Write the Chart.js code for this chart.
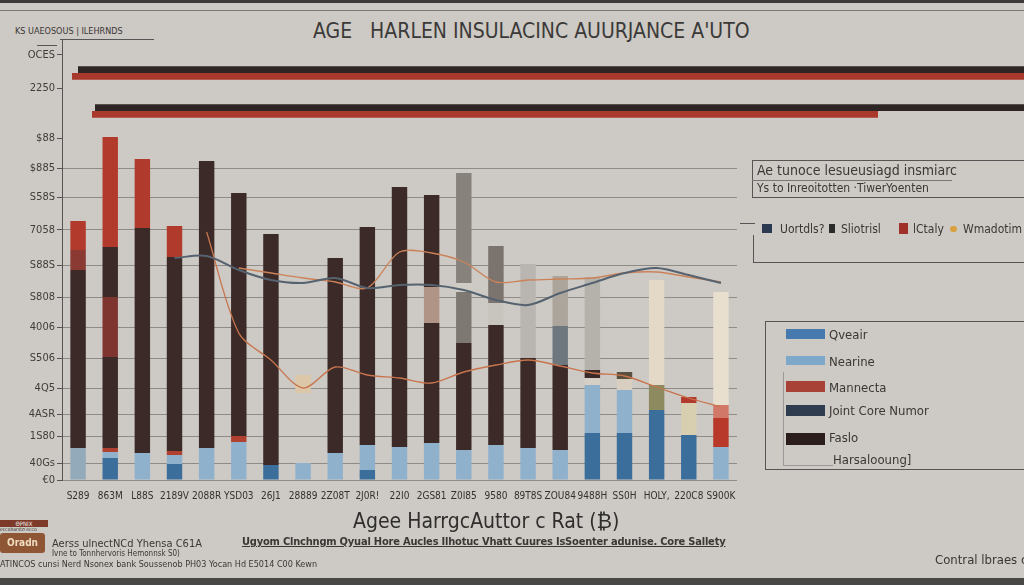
<!DOCTYPE html>
<html>
<head>
<meta charset="utf-8">
<script src="https://cdn.jsdelivr.net/npm/chart.js@4.4.1/dist/chart.umd.min.js"></script>
<style>
html, body { margin: 0; padding: 0; }
body { width: 1024px; height: 585px; position: relative; overflow: hidden; background: #cdc9c4;
  font-family: "DejaVu Sans Condensed", "Liberation Sans", sans-serif; color: #3a3735; }
.t { position: absolute; white-space: nowrap; line-height: 1; }
.ln { position: absolute; background: #555; }
canvas { position: absolute; }
.sw { position: absolute; }
</style>
</head>
<body>
<div class="ln" style="left:0;top:0;width:1024px;height:3px;background:#3c3b3a"></div>
<div class="ln" style="left:0;top:10px;width:1024px;height:1px;background:#7a7774"></div>
<div class="ln" style="left:0;top:578px;width:1024px;height:7px;background:#4a4847"></div>

<div class="t" style="left:15px;top:27px;font-size:9px;">KS UAEOSOUS | ILEHRNDS</div>
<div class="ln" style="left:60px;top:39px;width:94px;height:1px;"></div>
<div class="ln" style="left:37px;top:45px;width:20px;height:1px;"></div>

<div class="t" style="left:313px;top:21px;font-size:21px;color:#3b3a39;">AGE&nbsp;&nbsp; HARLEN INSULACINC AUURJANCE A'UTO</div>

<canvas id="stripes" width="1024" height="76" style="left:0;top:54px;width:1024px;height:76px"></canvas>
<canvas id="main" width="1024" height="585" style="left:0;top:0;width:1024px;height:585px"></canvas>

<!-- legend box 1 -->
<div class="ln" style="left:752px;top:160px;width:272px;height:1px;"></div>
<div class="ln" style="left:752px;top:160px;width:1px;height:38px;"></div>
<div class="ln" style="left:752px;top:197px;width:272px;height:1px;"></div>
<div class="ln" style="left:752px;top:180px;width:200px;height:1px;background:#777"></div>
<div class="t" style="left:757px;top:163px;font-size:14px;">Ae tunoce lesueusiagd insmiarc</div>
<div class="t" style="left:757px;top:182px;font-size:12px;">Ys to Inreoitotten ·TiwerYoenten</div>

<div class="ln" style="left:740px;top:223px;width:15px;height:1px;"></div>
<div class="ln" style="left:753px;top:235px;width:1px;height:27px;"></div>
<div class="ln" style="left:753px;top:262px;width:271px;height:1px;"></div>
<div class="sw" style="left:762px;top:224px;width:10px;height:9px;background:#2b3a50"></div>
<div class="t" style="left:780px;top:223px;font-size:12px;">Uortdls?</div>
<div class="sw" style="left:829px;top:224px;width:6px;height:9px;background:#2b2b2b"></div>
<div class="t" style="left:841px;top:223px;font-size:12px;">Sliotrisl</div>
<div class="sw" style="left:899px;top:223px;width:9px;height:11px;background:#a0302a"></div>
<div class="t" style="left:913px;top:223px;font-size:12px;">lCtaly</div>
<div class="sw" style="left:950px;top:226px;width:7px;height:6px;background:#d9a040;border-radius:3px"></div>
<div class="t" style="left:963px;top:223px;font-size:12px;">Wmadotim</div>

<!-- legend box 2 -->
<div class="ln" style="left:765px;top:321px;width:259px;height:1px;"></div>
<div class="ln" style="left:765px;top:321px;width:1px;height:149px;"></div>
<div class="ln" style="left:765px;top:469px;width:259px;height:1px;"></div>
<div class="ln" style="left:783px;top:372px;width:1px;height:93px;background:#999"></div>
<div class="ln" style="left:783px;top:465px;width:50px;height:1px;background:#999"></div>
<div class="sw" style="left:786px;top:329px;width:39px;height:10px;background:#4679ad"></div>
<div class="t" style="left:829px;top:328px;font-size:13px;">Qveair</div>
<div class="sw" style="left:786px;top:356px;width:39px;height:9px;background:#7ea8c9"></div>
<div class="t" style="left:829px;top:355px;font-size:13px;">Nearine</div>
<div class="sw" style="left:786px;top:381px;width:39px;height:11px;background:#a94236"></div>
<div class="t" style="left:829px;top:381px;font-size:13px;">Mannecta</div>
<div class="sw" style="left:786px;top:405px;width:39px;height:11px;background:#2f3c50"></div>
<div class="t" style="left:829px;top:404px;font-size:13px;">Joint Core Numor</div>
<div class="sw" style="left:786px;top:433px;width:39px;height:12px;background:#2a1d1b"></div>
<div class="t" style="left:829px;top:431px;font-size:13px;">Faslo</div>
<div class="t" style="left:833px;top:453px;font-size:13px;">Harsalooung]</div>

<!-- bottom texts -->
<div class="t" style="left:353px;top:511px;font-size:21px;color:#2f2e2d;">Agee HarrgcAuttor c Rat (₿)</div>
<div class="t" style="left:242px;top:536px;font-size:11px;font-weight:bold;letter-spacing:-0.2px;text-decoration:underline;">Ugyom Clnchngm Qyual Hore Aucles Ilhotuc Vhatt Cuures IsSoenter adunise. Core Sallety</div>

<div class="sw" style="left:0;top:520px;width:48px;height:7px;background:#7e3a28;color:#eee;font-size:6px;line-height:7px;text-align:center">ΘΡΝΙΧ</div>
<div class="t" style="left:0;top:527px;font-size:5px;">eccoharstσ ecco</div>
<div class="sw" style="left:0;top:533px;width:45px;height:20px;background:#8e5634;border-radius:3px;color:#f0dcc0;font-size:10px;line-height:20px;text-align:center;font-weight:bold">Oradn</div>
<div class="t" style="left:52px;top:538px;font-size:11px;">Aerss ulnectNCd Yhensa C61A</div>
<div class="t" style="left:52px;top:550px;font-size:8px;">Ivne to Tonnhervoris Hemonnsk S0)</div>
<div class="t" style="left:0;top:560px;font-size:9px;">ATINCOS cunsi Nerd Nsonex bank Soussenob PH03 Yocan Hd E5014 C00 Kewn</div>
<div class="t" style="left:935px;top:553px;font-size:13px;">Contral lbraes coc A</div>

<script>
// categories / tick labels
const categories = ['S289', '863M', 'L88S', '2189V', '2088R', 'YSD03', '26J1', '28889', '2Z08T', '2J0R!', '22I0',
  '2GS81', 'Z0I85', '9580', '89T8S', 'ZOU84', '9488H', 'SS0H', 'HOLY,', '220C8', 'S900K'];
const yTickValues = [425, 392, 342, 312, 283, 250, 215, 183, 153, 122, 92, 66, 44, 17, 0];
const yTickLabels = ['OCES', '2250', '$88', '$885', 'S58S', '7058', 'S88S', 'S808', '4006', 'S506', '4Q5', '4ASR', '1S80', '40Gs', '€0'];

// stacked bar layers, bottom to top
const layerBlue  = [0, 22, 0, 16, 0, 0, 15, 0, 0, 10, 0, 0, 0, 0, 0, 0, 47, 47, 70, 45, 0];
const layerLight = [32, 6, 27, 9, 32, 38, 0, 17, 27, 25, 33, 37, 30, 35, 32, 30, 48, 43, 0, 0, 33];
const layerThin  = [0, 4, 0, 4, 0, 6, 0, 0, 0, 0, 0, 0, 0, 0, 0, 0, 7, 11, 25, 32, 29];
const layerDark  = [178, 91, 225, 194, 287, 243, 231, 70, 195, 218, 260, 120, 107, 120, 90, 85, 8, 7, 0, 0, 0];
const layerMid   = [20, 60, 0, 0, 0, 0, 0, 18, 0, 0, 0, 36, 51, 22, 0, 39, 0, 0, 0, 0, 13];
const layerUpper = [0, 50, 0, 0, 0, 0, 0, 0, 0, 0, 0, 92, 9, 57, 0, 0, 0, 0, 0, 0, 0];
const layerTop   = [29, 110, 69, 31, 0, 0, 0, 0, 0, 0, 0, 0, 110, 0, 94, 50, 93, 0, 105, 6, 113];

// lines
const slateLine  = [null, null, null, 222, 224, 210, 200, 197, 202, 192, 195, 195, 190, 180, 175, 187, 197, 207, 212, 205, 197];
const orangeUp   = [null, null, null, null, null, 212, 207, 202, 198, 192, 228, 227, 218, 198, 200, 201, 202, 207, 208, 203, 198];
const orangeLow  = [null, null, null, null, 248, 147, 120, 92, 113, 105, 102, 97, 108, 115, 120, 114, 107, 104, 93, 82, 73];

// top horizontal stripes (floating ranges)
const stripeRows = ['a', 'b'];
const stripeDark = [[78, 1024], [95, 1024]];
const stripeRed  = [[72, 1024], [92, 878]];

const DK = '#3b2a28', RD = '#b23a2c', LB = '#8fb1cc', BL = '#3c6e9c';
const thinColors = [LB, '#b04030', LB, '#b04030', LB, '#b04030', LB, LB, LB, LB, LB, LB, LB, LB, LB, LB,
  '#d6cfc6', '#d9cfc0', '#8c8a5e', '#d8ceb0', '#b8382a'];
const darkColors = categories.map((c, i) => i === 7 ? 'rgba(0,0,0,0)' : (i === 17 ? '#5a5040' : DK));
const midColors = ['#8a3a32', '#7e3530', DK, DK, DK, DK, DK, '#dcc8a8', DK, DK, DK, '#b09485', '#7e7873',
  '#c8c4be', DK, '#6f777e', DK, DK, DK, DK, '#d27868'];
const upperColors = [DK, DK, DK, DK, DK, DK, DK, DK, DK, DK, DK, DK, '#cfcbc5', '#7a736e', DK, DK, DK, DK, DK, DK, DK];
const topColors = [RD, RD, '#b03a2c', '#b03a2c', DK, DK, DK, DK, DK, DK, DK, DK, '#88827d', DK, '#b9b5b0',
  '#aca59b', '#b5b1ab', DK, '#e4d9c6', RD, '#e8dfcf'];
const lightColors = categories.map((c, i) => i === 0 ? '#93aabb' : LB);

const FONT = '"DejaVu Sans Condensed", "Liberation Sans", sans-serif';

function barSet(label, data, color) {
  return { type: 'bar', label, data, backgroundColor: color, borderWidth: 0, stack: 's', order: 2,
    barPercentage: 0.48, categoryPercentage: 1 };
}
function lineSet(label, data, color, width) {
  return { type: 'line', label, data, borderColor: color, borderWidth: width, pointRadius: 0,
    tension: 0.3, yAxisID: 'y2', order: 1, spanGaps: false };
}

new Chart(document.getElementById('main'), {
  data: {
    labels: categories,
    datasets: [
      barSet('Qveair', layerBlue, BL),
      barSet('Nearine', layerLight, lightColors),
      barSet('Mannecta', layerThin, thinColors),
      barSet('Faslo', layerDark, darkColors),
      barSet('Joint Core Numor', layerMid, midColors),
      barSet('Faslo 2', layerUpper, upperColors),
      barSet('Top', layerTop, topColors),
      lineSet('Harsalooung', slateLine, '#55626f', 2),
      lineSet('Orange', orangeUp, '#cc8258', 1.3),
      lineSet('Orange low', orangeLow, '#c8744c', 1.3)
    ]
  },
  options: {
    responsive: false,
    animation: false,
    layout: { padding: { left: 0, right: 287, top: 40, bottom: 83 } },
    plugins: { legend: { display: false }, tooltip: { enabled: false } },
    scales: {
      x: {
        stacked: true,
        grid: { display: false },
        border: { display: false },
        ticks: { autoSkip: false, maxRotation: 0, padding: 2, color: '#33302e', font: { family: FONT, size: 10 } },
        afterFit: s => { s.height = 22; }
      },
      y: {
        stacked: true, min: 0, max: 440,
        afterBuildTicks: s => { s.ticks = yTickValues.map(v => ({ value: v })); },
        afterFit: s => { s.width = 62; },
        ticks: {
          padding: 2, color: '#3f3c3a', font: { family: FONT, size: 11 },
          callback: (v) => yTickLabels[yTickValues.indexOf(v)]
        },
        grid: {
          color: ctx => (ctx.tick && ctx.tick.value > 330) ? 'rgba(0,0,0,0)' : '#8f8b87',
          tickColor: '#555', tickLength: 5
        },
        border: { color: '#555', width: 1 }
      },
      y2: { display: false, min: 0, max: 440 }
    }
  }
});

new Chart(document.getElementById('stripes'), {
  type: 'bar',
  data: {
    labels: stripeRows,
    datasets: [
      { data: stripeDark, backgroundColor: '#2e2624', categoryPercentage: 0.36, barPercentage: 1 },
      { data: stripeRed, backgroundColor: '#a8392c', categoryPercentage: 0.36, barPercentage: 1 }
    ]
  },
  options: {
    indexAxis: 'y',
    responsive: false,
    animation: false,
    layout: { padding: 0 },
    plugins: { legend: { display: false }, tooltip: { enabled: false } },
    scales: {
      x: { display: false, min: 0, max: 1024 },
      y: { display: false }
    }
  }
});
</script>
</body>
</html>
